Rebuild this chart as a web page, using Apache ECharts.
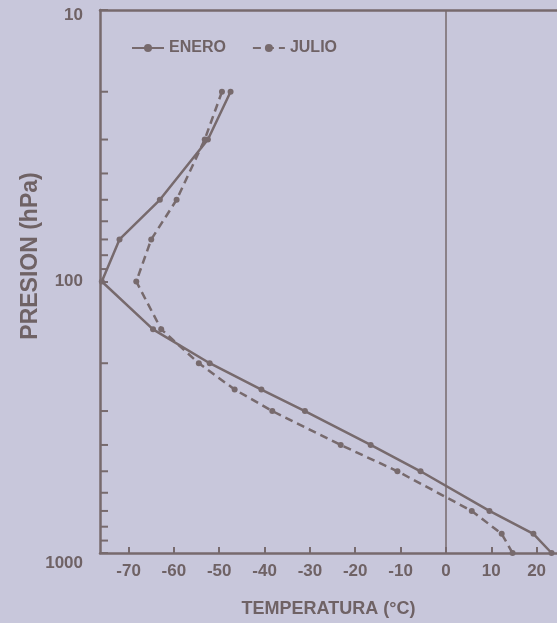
<!DOCTYPE html>
<html>
<head>
<meta charset="utf-8">
<title>Perfil de temperatura</title>
<script src="https://cdn.jsdelivr.net/npm/echarts@6/dist/echarts.min.js"></script>
<style>
  html, body { margin: 0; padding: 0; background: #c8c7db; }
  #chart { width: 557px; height: 623px; }
</style>
</head>
<body>
<div id="chart"></div>
<script>
// niveles de presion (hPa)
const pressures = [20, 30, 50, 70, 100, 150, 200, 250, 300, 400, 500, 700, 850, 1000]
// temperaturas (°C)
const enero = [-47.5, -52.5, -63.1, -72, -75.9, -64.6, -52.1, -40.7, -31.1, -16.6, -5.6, 9.6, 19.3, 23.3]
const julio = [-49.4, -53.2, -59.4, -65, -68.3, -62.8, -54.5, -46.6, -38.3, -23.2, -10.7, 5.7, 12.3, 14.7]
// marcas menores del eje de presion
const minorTicks = [20, 30, 40, 50, 60, 70, 80, 90, 200, 300, 400, 500, 600, 700, 800, 900]

const xMin = -76.3
const xMax = 24.5
const ink = '#776a6d'
const textInk = '#6f6265'
const font = 'Liberation Sans'

const myChart = echarts.init(document.getElementById('chart'))

const option = {
  backgroundColor: '#c8c7db',
  animation: false,
  textStyle: { fontFamily: font },
  grid: { left: 100, right: 0, top: 10, bottom: 70 },
  legend: {
    data: ['ENERO', 'JULIO'],
    left: 126,
    top: 35,
    itemWidth: 32,
    itemHeight: 10,
    itemGap: 26,
    textStyle: { color: textInk, fontSize: 16, fontWeight: 'bold', fontFamily: font }
  },
  graphic: [
    {
      type: 'text',
      x: 31,
      y: 256,
      rotation: Math.PI / 2,
      style: {
        text: 'PRESION (hPa)',
        fill: textInk,
        font: 'bold 23px "Liberation Sans"',
        align: 'center',
        verticalAlign: 'middle'
      }
    }
  ],
  xAxis: [
    {
      type: 'value',
      min: xMin,
      max: xMax,
      splitNumber: 10,
      minInterval: 10,
      maxInterval: 10,
      name: 'TEMPERATURA (°C)',
      nameLocation: 'middle',
      nameGap: 47,
      nameTextStyle: { color: textInk, fontSize: 18, fontWeight: 'bold', fontFamily: font },
      axisLine: { onZero: false, lineStyle: { color: ink, width: 2.5 } },
      axisTick: { inside: true, length: 6, lineStyle: { color: ink, width: 2 } },
      axisLabel: {
        color: textInk,
        fontSize: 17,
        fontWeight: 'bold',
        margin: 10,
        showMinLabel: false,
        showMaxLabel: false,
        formatter: function (v) {
          return Math.abs(v % 10) < 1e-6 ? String(v) : ''
        }
      },
      splitLine: { show: false }
    },
    {
      type: 'value',
      position: 'top',
      min: xMin,
      max: xMax,
      axisLine: { show: true, onZero: false, lineStyle: { color: ink, width: 2.5 } },
      axisTick: { show: false },
      axisLabel: { show: false },
      splitLine: { show: false }
    }
  ],
  yAxis: {
    type: 'log',
    logBase: 10,
    min: 10,
    max: 1000,
    inverse: true,
    axisLine: { show: true, onZero: false, lineStyle: { color: ink, width: 2.5 } },
    axisTick: { show: true, inside: true, length: 8, lineStyle: { color: ink, width: 2 } },
    axisLabel: {
      color: textInk,
      fontSize: 17,
      fontWeight: 'bold',
      margin: 17,
      formatter: function (v) {
        const n = Math.round(v)
        if (n === 10) return '{top|10}'
        if (n === 1000) return '{low|1000}'
        return String(n)
      },
      rich: {
        top: { color: textInk, fontSize: 17, fontWeight: 'bold', padding: [10, 0, 0, 0] },
        low: { color: textInk, fontSize: 17, fontWeight: 'bold', padding: [20, 0, 0, 0] }
      }
    },
    splitLine: { show: false }
  },
  series: [
    {
      name: 'ENERO',
      type: 'line',
      data: pressures.map((p, i) => [enero[i], p]),
      symbol: 'circle',
      symbolSize: 6,
      itemStyle: { color: ink },
      lineStyle: { color: ink, width: 2.5 },
      markLine: {
        silent: true,
        symbol: 'none',
        label: { show: false },
        lineStyle: { color: ink, width: 1.5, type: 'solid' },
        data: [{ xAxis: 0 }]
      }
    },
    {
      name: 'JULIO',
      type: 'line',
      data: pressures.map((p, i) => [julio[i], p]),
      symbol: 'circle',
      symbolSize: 6,
      itemStyle: { color: ink },
      lineStyle: { color: ink, width: 2.5, type: [8, 5] }
    },
    {
      name: 'ticks',
      type: 'custom',
      silent: true,
      data: minorTicks.map(p => [xMin, p]),
      encode: { x: 0, y: 1 },
      renderItem: function (params, api) {
        const pt = api.coord([api.value(0), api.value(1)])
        return {
          type: 'line',
          shape: { x1: pt[0], y1: pt[1], x2: pt[0] + 8, y2: pt[1] },
          style: { stroke: ink, lineWidth: 2 }
        }
      }
    }
  ]
}

myChart.setOption(option)
</script>
</body>
</html>
